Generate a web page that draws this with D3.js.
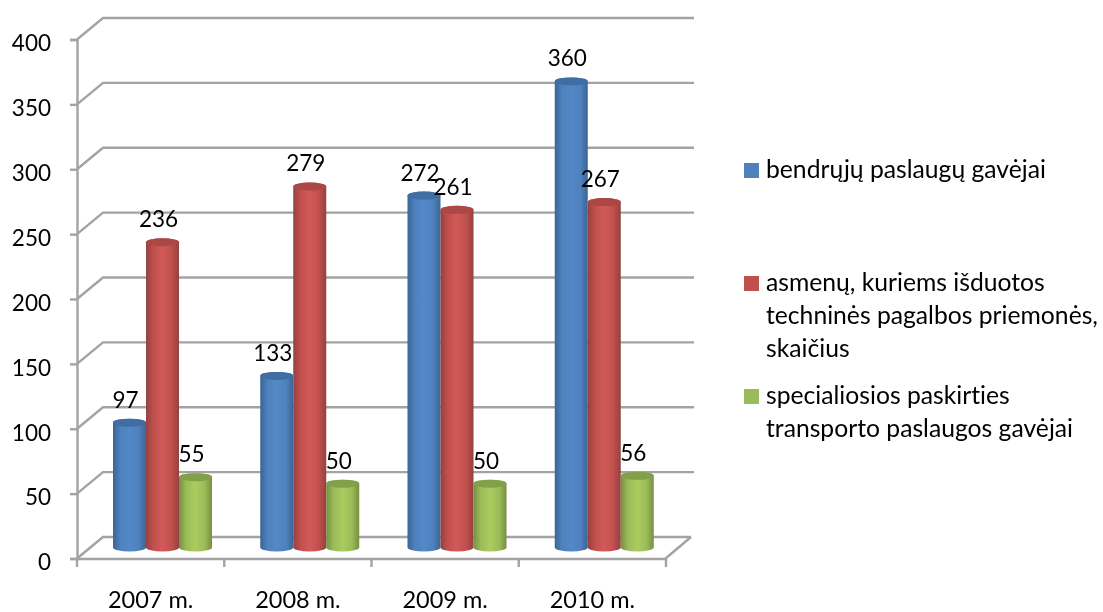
<!DOCTYPE html>
<html><head><meta charset="utf-8">
<script src="https://cdnjs.cloudflare.com/ajax/libs/d3/7.8.5/d3.min.js"></script>
<style>
html,body{margin:0;padding:0;background:#fff;overflow:hidden}
svg{display:block}
text{font-family:Lato,"Open Sans",sans-serif;fill:#000;font-variant-ligatures:none}
</style></head><body>
<svg id="c" width="1103" height="612"></svg>
<script>
const categories=["2007 m.","2008 m.","2009 m.","2010 m."];
const seriesNames=["bendrųjų paslaugų gavėjai","asmenų, kuriems išduotos techninės pagalbos priemonės, skaičius","specialiosios paskirties transporto paslaugos gavėjai"];
const bendruju=[97,133,272,360];
const asmenu=[236,279,261,267];
const specialiosios=[55,50,50,56];
const yTicks=[0,50,100,150,200,250,300,350,400];
const legendLines=[["bendrųjų paslaugų gavėjai"],["asmenų, kuriems išduotos","techninės pagalbos priemonės,","skaičius"],["specialiosios paskirties","transporto paslaugos gavėjai"]];
const palette=[{edge:"#3a6596",mid:"#5288c8",top:"#3f6ea3",sw:"#4f81bd"},{edge:"#94413f",mid:"#d25a58",top:"#ab4644",sw:"#c0504d"},{edge:"#759040",mid:"#a9cc5e",top:"#82a04a",sw:"#9bbb59"}];
const allSeries=[bendruju,asmenu,specialiosios];

const svg=d3.select("#c"),defs=svg.append("defs");
defs.append("filter").attr("id","soft").attr("x","-5%").attr("y","-5%").attr("width","110%").attr("height","110%")
  .append("feGaussianBlur").attr("stdDeviation",0.5);
palette.forEach((p,i)=>{
  const g=defs.append("linearGradient").attr("id","cyl"+i);
  [[0,p.edge],[0.22,p.sw],[0.5,p.mid],[0.78,p.sw],[1,p.edge]].forEach(s=>g.append("stop").attr("offset",s[0]).attr("stop-color",s[1]));
});
const root=svg.append("g").attr("filter","url(#soft)");
const gridCol="#a3a3a3";
const y=d3.scaleLinear().domain([0,400]).range([558.5,39.5]);
const x=d3.scaleBand().domain(categories).range([77,666]);
const inner=d3.scaleBand().domain(d3.range(3)).range([36,135]);
const depth={dx:26,dy:-21.5}, baseLift=-11, topLift=-10, ry=4;
const numSize=22.5, catSize=23.5, legendSize=24.7, sw=2.4;

// walls
const grid=root.append("g").attr("fill","none").attr("stroke",gridCol).attr("stroke-width",sw);
yTicks.forEach(t=>{
  const p=d3.path();
  p.moveTo(77,y(t));p.lineTo(77+depth.dx,y(t)+depth.dy);p.lineTo(t===0?691:694,y(t)+depth.dy);
  grid.append("path").attr("d",p.toString());
});
const floor=d3.path();floor.moveTo(665.5,y(0));floor.lineTo(691,y(0)+depth.dy);
grid.append("path").attr("d",floor.toString());

// axes
const axL=root.append("g").attr("transform","translate(77,0)").call(d3.axisLeft(y).tickValues(yTicks).tickSize(7).tickPadding(19));
const axB=root.append("g").attr("transform","translate(0,558.5)").call(d3.axisBottom(x).tickSize(0).tickPadding(0));
axL.selectAll("path,line").attr("stroke",gridCol).attr("stroke-width",sw);
axL.selectAll("text").attr("font-size",numSize).attr("font-family","Lato").attr("dy","0.5em");
axB.selectAll("path").attr("stroke",gridCol).attr("stroke-width",sw);
axB.selectAll("text").attr("font-size",catSize).attr("font-family","Lato").attr("y",49.5).attr("dy",0);
axB.selectAll("line").remove();
const bt=root.append("g").attr("stroke",gridCol).attr("stroke-width",sw);
categories.forEach(c=>bt.append("line").attr("x1",x(c)).attr("x2",x(c)).attr("y1",558.5).attr("y2",567));
bt.append("line").attr("x1",x.range()[1]).attr("x2",x.range()[1]).attr("y1",558.5).attr("y2",567);

// cylinders
const bars=root.append("g");
categories.forEach((c,ci)=>{
  allSeries.forEach((vals,si)=>{
    const x0=x(c)+inner(si), w=inner.bandwidth(), rx=w/2;
    const yt=y(vals[ci])+topLift, yb=y(0)+baseLift;
    const body=d3.path();
    body.moveTo(x0,yt);body.lineTo(x0,yb);
    const d=body.toString()+`A${rx},${ry} 0 0 0 ${x0+w},${yb}L${x0+w},${yt}A${rx},${ry} 0 0 0 ${x0},${yt}Z`;
    bars.append("path").attr("d",d).attr("fill",`url(#cyl${si})`);
    bars.append("ellipse").attr("cx",x0+rx).attr("cy",yt).attr("rx",rx).attr("ry",ry).attr("fill",palette[si].top);
  });
});
// data labels
const labels=root.append("g").attr("text-anchor","middle").attr("font-size",numSize);
categories.forEach((c,ci)=>allSeries.forEach((vals,si)=>{
  labels.append("text").attr("x",x(c)+inner(si)+inner.bandwidth()/2-4).attr("y",y(vals[ci])+topLift-15).text(vals[ci]);
}));
// legend
const legendTop=[163,276,389];
const lg=root.append("g");
legendLines.forEach((lines,i)=>{
  lg.append("rect").attr("x",744).attr("y",legendTop[i]).attr("width",15).attr("height",15).attr("fill",palette[i].sw);
  lines.forEach((l,j)=>lg.append("text").attr("x",766).attr("y",legendTop[i]+15+j*33).attr("font-size",legendSize).text(l));
});
</script></body></html>
